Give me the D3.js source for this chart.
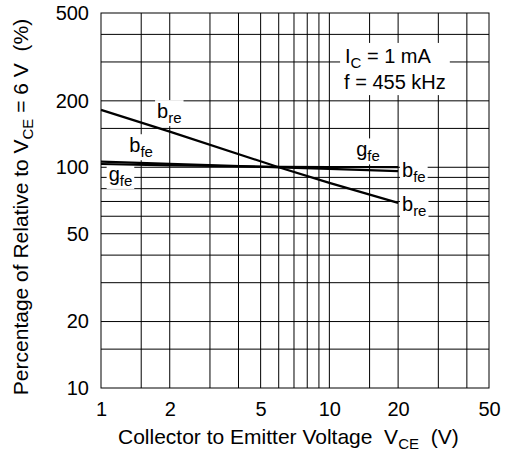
<!DOCTYPE html>
<meta charset="utf-8">
<style>
body { margin: 0; background: #fff; }
text { font-family: "Liberation Sans", Arial, sans-serif; fill: #000; white-space: pre; }
.grid line { stroke: #000; stroke-width: 1px; }
.frame { fill: none; stroke: #000; stroke-width: 1px; }
.curve { fill: none; stroke: #000; stroke-width: 2.2px; }
</style>
<svg width="515" height="453"></svg>
<script src="https://d3js.org/d3.v7.min.js"></script>
<script>

// values (% relative to VCE = 6 V)
var vce = [1, 2, 6, 10, 20];
var bre = [182, 145, 100, 85, 69];
var bfe = [106, 103.6, 100, 98.3, 96];
var gfe = [103.5, 102, 100.5, 100.3, 100.2];

var xTicks = [1, 2, 5, 10, 20, 50];
var yTicks = [10, 20, 50, 100, 200, 500];
var xGrid = [1.5, 2, 3, 4, 5, 6, 7, 8, 9, 10, 15, 20, 30, 40];
var yGrid = [15, 20, 30, 40, 50, 60, 70, 80, 90, 100, 150, 200, 300, 400];

var svg = d3.select("svg"),
    width = +svg.attr("width"),
    height = +svg.attr("height");

svg.append("rect").attr("width", width).attr("height", height).attr("fill", "#fff");

var x = d3.scaleLog().domain([1, 50]).range([101, 489]);
var y = d3.scaleLog().domain([10, 500]).range([388, 13]);

// grid
var grid = svg.append("g").attr("class", "grid");
grid.selectAll(".vx").data(xGrid).enter().append("line")
    .attr("x1", function(d) { return x(d); })
    .attr("x2", function(d) { return x(d); })
    .attr("y1", y(500)).attr("y2", y(10));
grid.selectAll(".hy").data(yGrid).enter().append("line")
    .attr("y1", function(d) { return y(d); })
    .attr("y2", function(d) { return y(d); })
    .attr("x1", x(1)).attr("x2", x(50));

svg.append("rect").attr("class", "frame")
    .attr("x", x(1)).attr("y", y(500))
    .attr("width", x(50) - x(1)).attr("height", y(10) - y(500));

// axes (labels only)
var xAxis = svg.append("g")
    .attr("transform", "translate(0," + y(10) + ")")
    .call(d3.axisBottom(x).tickValues(xTicks).tickSize(0).tickPadding(14).tickFormat(d3.format("d")));
var yAxis = svg.append("g")
    .attr("transform", "translate(" + x(1) + ",0)")
    .call(d3.axisLeft(y).tickValues(yTicks).tickSize(0).tickPadding(12).tickFormat(d3.format("d")));
[xAxis, yAxis].forEach(function(a) {
  a.select(".domain").remove();
  a.attr("font-family", null).attr("font-size", null);
  a.selectAll("text").style("font-size", "20px");
});

// axis titles
var xt = svg.append("text")
    .attr("x", 118).attr("y", 444)
    .style("font-size", "21px");
xt.append("tspan").text("Collector to Emitter Voltage  V");
xt.append("tspan").attr("dy", 5).style("font-size", "15px").text("CE");
xt.append("tspan").attr("dy", -5).text("  (V)");

var yt = svg.append("text")
    .attr("transform", "translate(28,207) rotate(-90)")
    .attr("text-anchor", "middle")
    .style("font-size", "21px");
yt.append("tspan").text("Percentage of Relative to V");
yt.append("tspan").attr("dy", 5).style("font-size", "15px").text("CE");
yt.append("tspan").attr("dy", -5).text(" = 6 V  (%)");

// label layers: white boxes under the curves, text on top
var boxes = svg.append("g");
var curves = svg.append("g");
var texts = svg.append("g");

var line = d3.line()
    .x(function(d) { return x(d[0]); })
    .y(function(d) { return y(d[1]); });

[bre, bfe, gfe].forEach(function(s) {
  curves.append("path").attr("class", "curve")
      .attr("d", line(vce.map(function(v, i) { return [v, s[i]]; })));
});

var curveLabels = [
  { main: "b", sub: "re", at: [1.76, 167] },
  { main: "b", sub: "fe", at: [1.33, 117] },
  { main: "g", sub: "fe", at: [1.08, 86.7] },
  { main: "g", sub: "fe", at: [13.1, 112] },
  { main: "b", sub: "fe", at: [20.8, 90.4] },
  { main: "b", sub: "re", at: [20.8, 63.4] }
];

function addBox(node, pad) {
  var b = node.getBBox();
  boxes.append("rect")
      .attr("x", b.x - pad).attr("y", b.y - pad + 2)
      .attr("width", b.width + 2 * pad).attr("height", b.height + 2 * pad - 4)
      .attr("fill", "#fff");
}

curveLabels.forEach(function(l) {
  var t = texts.append("text")
      .attr("x", x(l.at[0])).attr("y", y(l.at[1]))
      .style("font-size", "20px");
  t.append("tspan").text(l.main);
  t.append("tspan").attr("dy", 5).style("font-size", "15px").text(l.sub);
  addBox(t.node(), 2);
});

// conditions note
var note = texts.append("g");
var n1 = note.append("text").attr("x", x(11.7)).attr("y", y(297)).style("font-size", "20px");
n1.append("tspan").text("I");
n1.append("tspan").attr("dy", 5).style("font-size", "15px").text("C");
n1.append("tspan").attr("dy", -5).text(" = 1 mA");
note.append("text").attr("x", x(11.6)).attr("y", y(226)).style("font-size", "20px")
    .text("f = 455 kHz");
addBox(note.node(), 4);

</script>
